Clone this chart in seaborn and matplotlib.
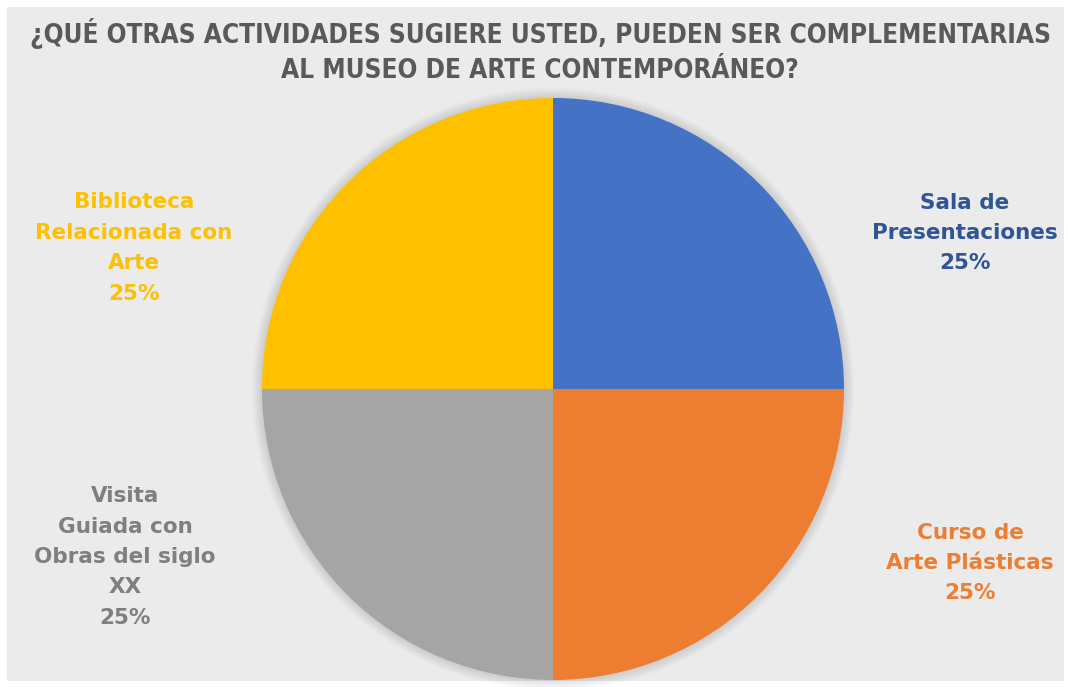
import matplotlib
matplotlib.use("Agg")
import matplotlib.pyplot as plt
from matplotlib.patches import Rectangle, Circle
import seaborn as sns

# Survey answers: share of respondents per suggested activity
categories = ["Sala de\nPresentaciones", "Curso de\nArte Plásticas",
              "Visita\nGuiada con\nObras del siglo\nXX", "Biblioteca\nRelacionada con\nArte"]
values = [25, 25, 25, 25]
slice_colors = ["#4472C4", "#ED7D31", "#A5A5A5", "#FFC000"]
label_colors = ["#2F5597", "#ED7D31", "#7F7F7F", "#FFC000"]
title = "¿QUÉ OTRAS ACTIVIDADES SUGIERE USTED, PUEDEN SER COMPLEMENTARIAS\nAL MUSEO DE ARTE CONTEMPORÁNEO?"

sns.set_theme(style="white")
plt.rcParams["font.family"] = ["DejaVu Sans"]

W, H = 1068, 687
fig = plt.figure(figsize=(W / 100, H / 100), dpi=100)
fig.patch.set_facecolor("white")

# light grey chart area inside a thin white margin
bg = Rectangle((7 / W, 6 / H), (1064 - 7) / W, (681 - 7) / H,
               transform=fig.transFigure, facecolor="#EBEBEB", edgecolor="none", zorder=-5)
fig.patches.append(bg)

cx, cy, r = 553, 389, 291
ax = fig.add_axes([(cx - r) / W, (H - cy - r) / H, 2 * r / W, 2 * r / H])
ax.set_zorder(2)
ax.patch.set_alpha(0)

# soft shadow under the pie
for i in range(10):
    ax.add_patch(Circle((0, 0.0), 1.0 + 0.0035 * (10 - i), facecolor="#000000",
                        alpha=0.012, edgecolor="none", zorder=0, clip_on=False))

ax.pie(values, colors=slice_colors, startangle=90, counterclock=False,
       radius=1.0, wedgeprops=dict(linewidth=0, zorder=2))
ax.set_xlim(-1, 1)
ax.set_ylim(-1, 1)
ax.set_aspect("auto")
ax.axis("off")

fig.text(540 / W, 1 - 51 / H, title, ha="center", va="center", fontsize=18.8,
         fontweight="bold", color="#595959", linespacing=1.45, fontstretch="condensed")

total = sum(values)
label_pos = [(965, 233), (970, 563), (125, 557), (134, 248)]
for cat, v, col, (lx, ly) in zip(categories, values, label_colors, label_pos):
    txt = f"{cat}\n{round(100 * v / total)}%"
    fig.text(lx / W, 1 - ly / H, txt, ha="center", va="center", fontsize=15.5,
             fontweight="bold", color=col, linespacing=1.65)

fig.savefig("out.png", dpi=100)
